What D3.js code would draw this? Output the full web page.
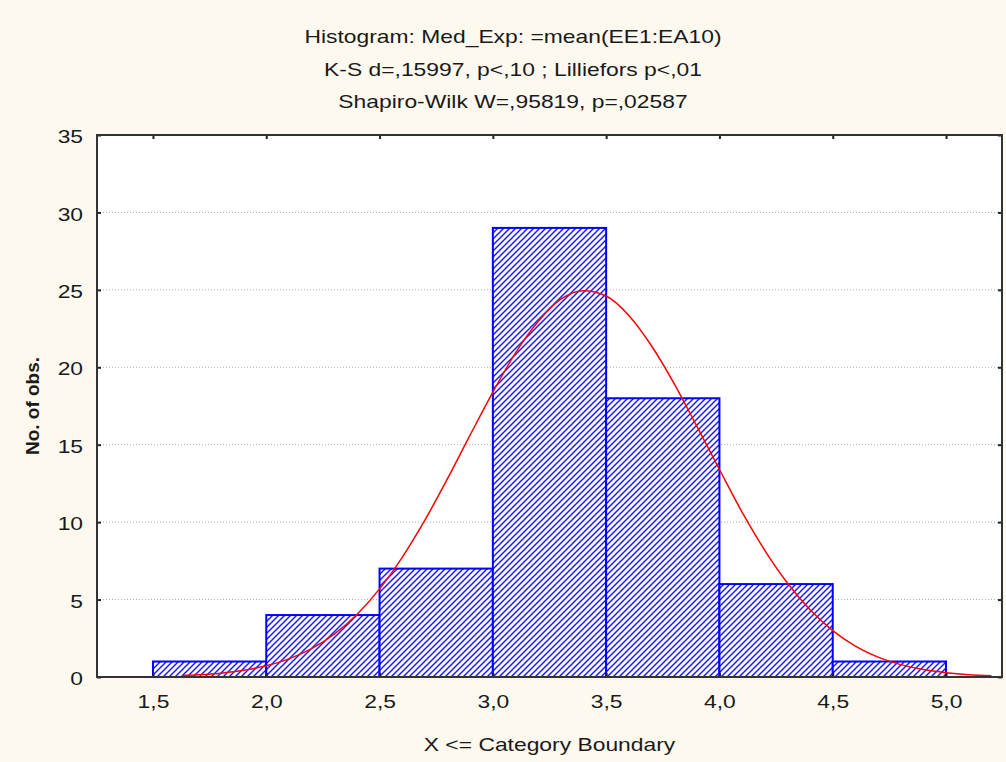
<!DOCTYPE html>
<html>
<head>
<meta charset="utf-8">
<script src="https://cdn.jsdelivr.net/npm/d3@7"></script>
<style>
  body { margin: 0; background: #fef9ef; }
  svg { display: block; font-family: "Liberation Sans", Arial, sans-serif; }
</style>
</head>
<body>
<svg id="chart" width="1006" height="762"></svg>
<script>
// histogram bins (upper boundaries) and counts
var binStart = [1.5, 2.0, 2.5, 3.0, 3.5, 4.0, 4.5];
var binEnd   = [2.0, 2.5, 3.0, 3.5, 4.0, 4.5, 5.0];
var counts   = [1, 4, 7, 29, 18, 6, 1];

// fitted normal curve
var curveX = [1.63, 1.7, 1.8, 1.9, 2.0, 2.1, 2.2, 2.3, 2.4, 2.5, 2.6, 2.7, 2.8, 2.9, 3.0,
              3.1, 3.2, 3.3, 3.4, 3.5, 3.6, 3.7, 3.8, 3.9, 4.0, 4.1, 4.2, 4.3, 4.4, 4.5,
              4.6, 4.7, 4.8, 4.9, 5.0, 5.1, 5.2];
var curveY = [0.09, 0.14, 0.25, 0.43, 0.72, 1.17, 1.83, 2.77, 4.04, 5.69, 7.73, 10.13, 12.81, 15.63, 18.4,
              20.93, 22.96, 24.4, 24.95, 24.6, 23.35, 21.39, 18.95, 16.2, 13.4, 10.64, 8.18, 6.07, 4.34, 3.0,
              2.0, 1.28, 0.8, 0.48, 0.28, 0.15, 0.08];

var xTicks = [1.5, 2.0, 2.5, 3.0, 3.5, 4.0, 4.5, 5.0];
var yTicks = [0, 5, 10, 15, 20, 25, 30, 35];
var titleLines = ["Histogram: Med_Exp: =mean(EE1:EA10)",
                  "K-S d=,15997, p<,10 ; Lilliefors p<,01",
                  "Shapiro-Wilk W=,95819, p=,02587"];

var pLeft = 97, pTop = 135, pRight = 1002, pBottom = 677;
var sx = 1.27; // text in the original is stretched horizontally
var svg = d3.select("#chart");

var x = d3.scaleLinear().domain([1.253, 5.247]).range([pLeft, pRight]);
var y = d3.scaleLinear().domain([0, 35]).range([pBottom, pTop]);
var fmt = function(d) { return d3.format(".1f")(d).replace(".", ","); };

// hatch pattern
var defs = svg.append("defs");
var pat = defs.append("pattern")
    .attr("id", "hatch")
    .attr("patternUnits", "userSpaceOnUse")
    .attr("width", 6).attr("height", 6);
pat.append("rect").attr("width", 6).attr("height", 6).attr("fill", "#fff");
pat.append("path")
    .attr("d", "M0,6 L6,0 M-1,1 L1,-1 M5,7 L7,5")
    .attr("stroke", "#1a1aff")
    .attr("stroke-width", 1.5);

// plot area
svg.append("rect")
    .attr("x", pLeft).attr("y", pTop)
    .attr("width", pRight - pLeft).attr("height", pBottom - pTop)
    .attr("fill", "#fff");

// dotted grid
svg.append("g").selectAll("line")
    .data(yTicks.filter(function(d) { return d > 0 && d < 35; }))
    .enter().append("line")
    .attr("x1", pLeft).attr("x2", pRight)
    .attr("y1", function(d) { return y(d); })
    .attr("y2", function(d) { return y(d); })
    .attr("stroke", "#aaa")
    .attr("stroke-width", 1)
    .attr("stroke-dasharray", "1,2");

// bars
svg.append("g").selectAll("rect")
    .data(counts)
    .enter().append("rect")
    .attr("x", function(d, i) { return x(binStart[i]); })
    .attr("y", function(d) { return y(d); })
    .attr("width", function(d, i) { return x(binEnd[i]) - x(binStart[i]); })
    .attr("height", function(d) { return pBottom - y(d); })
    .attr("fill", "url(#hatch)")
    .attr("stroke", "#0000ff")
    .attr("stroke-width", 2);

// normal curve
var line = d3.line()
    .x(function(d, i) { return x(curveX[i]); })
    .y(function(d) { return y(d); })
    .curve(d3.curveMonotoneX);
svg.append("path")
    .datum(curveY)
    .attr("d", line)
    .attr("fill", "none")
    .attr("stroke", "#ff0000")
    .attr("stroke-width", 1.5);

// axes, ticks inside
function styleAxis(g) {
    g.select(".domain").remove();
    g.selectAll(".tick line").attr("stroke", "#222").attr("stroke-width", 2);
    g.selectAll(".tick text")
        .attr("fill", "#1a1a1a")
        .attr("transform", "scale(" + sx + ",1)")
        .style("font-size", "18px");
}
svg.append("g")
    .attr("transform", "translate(0," + pBottom + ")")
    .call(d3.axisBottom(x).tickValues(xTicks).tickFormat(fmt).tickSizeInner(-4).tickSizeOuter(0).tickPadding(18))
    .call(styleAxis);
svg.append("g")
    .attr("transform", "translate(0," + pTop + ")")
    .call(d3.axisTop(x).tickValues(xTicks).tickFormat("").tickSizeInner(-4).tickSizeOuter(0))
    .call(styleAxis);
svg.append("g")
    .attr("transform", "translate(" + pLeft + ",0)")
    .call(d3.axisLeft(y).tickValues(yTicks).tickSizeInner(-4).tickSizeOuter(0).tickPadding(11))
    .call(styleAxis)
    .selectAll(".tick text").attr("dy", "0.42em");
svg.append("g")
    .attr("transform", "translate(" + pRight + ",0)")
    .call(d3.axisRight(y).tickValues(yTicks).tickFormat("").tickSizeInner(-4).tickSizeOuter(0))
    .call(styleAxis);

// frame
svg.append("rect")
    .attr("x", pLeft).attr("y", pTop)
    .attr("width", pRight - pLeft).attr("height", pBottom - pTop)
    .attr("fill", "none")
    .attr("stroke", "#333")
    .attr("stroke-width", 2);

// titles
svg.append("g").selectAll("text")
    .data(titleLines)
    .enter().append("text")
    .attr("transform", function(d, i) { return "translate(513," + (43 + i * 32.5) + ") scale(" + sx + ",1)"; })
    .attr("text-anchor", "middle")
    .attr("fill", "#1a1a1a")
    .style("font-size", "18px")
    .text(function(d) { return d; });

svg.append("text")
    .attr("transform", "translate(" + ((pLeft + pRight) / 2) + ",751) scale(" + sx + ",1)")
    .attr("text-anchor", "middle")
    .attr("fill", "#1a1a1a")
    .style("font-size", "18px")
    .text("X <= Category Boundary");

svg.append("text")
    .attr("transform", "translate(39,406) rotate(-90)")
    .attr("text-anchor", "middle")
    .attr("fill", "#1a1a1a")
    .style("font-size", "19px")
    .style("font-weight", "bold")
    .text("No. of obs.");
</script>
</body>
</html>
